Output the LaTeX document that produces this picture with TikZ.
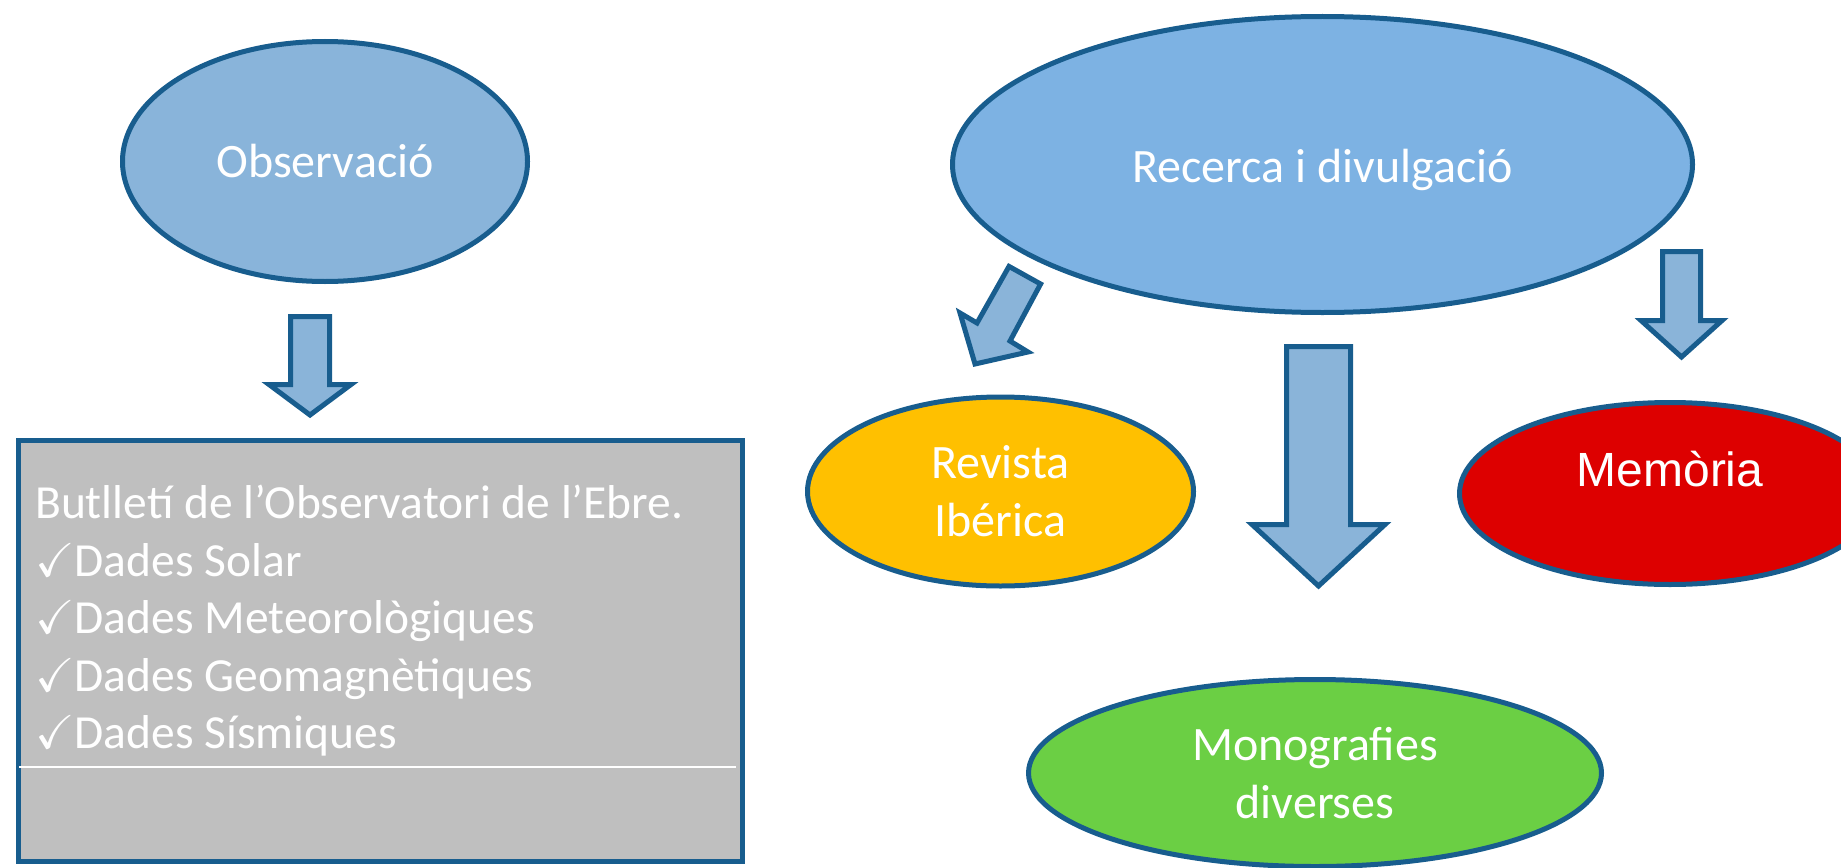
\documentclass[tikz,border=0pt]{standalone}
\usepackage{fontspec}
\usepackage{amssymb}
\setmainfont{Carlito}
\newfontfamily\arialfont{Liberation Sans}
\usetikzlibrary{shapes.geometric}
\definecolor{edgeblue}{HTML}{185D8E}
\definecolor{obsblue}{HTML}{89B4DA}
\definecolor{recblue}{HTML}{7DB2E3}
\definecolor{arrowblue}{HTML}{8AB4D9}
\definecolor{revyellow}{HTML}{FFC000}
\definecolor{memred}{HTML}{DD0000}
\definecolor{monogreen}{HTML}{6BCF44}
\definecolor{boxgray}{HTML}{BFBFBF}
\begin{document}
\begin{tikzpicture}[x=1pt,y=-1pt,
  oval/.style={ellipse, draw=edgeblue, line width=5pt, inner sep=0pt, text=white},
  ovaltext/.style={font=\fontsize{48}{58}\selectfont, align=center},
  blockarrow/.style={draw=edgeblue, fill=arrowblue, line width=5pt, line join=miter}]
\useasboundingbox (0,0) rectangle (1841,867);

% ellipses
\node[oval, fill=obsblue, minimum width=405, minimum height=240, ovaltext] (obs) at (325,161.5) {Observació};
\node[oval, fill=recblue, minimum width=740, minimum height=296, ovaltext, text height=42pt, text depth=7pt] (rec) at (1322.5,164.5) {Recerca i divulgació};
\node[oval, fill=revyellow, minimum width=386, minimum height=189, ovaltext] (rev) at (1000.5,491.5) {Revista\\Ibérica};
\node[oval, fill=memred, minimum width=421, minimum height=182, font=\arialfont\fontsize{48}{56}\selectfont, text height=36pt, text depth=50pt] (mem) at (1670,493.5) {Memòria};
\node[oval, fill=monogreen, minimum width=573, minimum height=187, ovaltext] (mono) at (1315,773) {Monografies\\diverses};

% bulletin box
\node[draw=edgeblue, fill=boxgray, line width=5pt, minimum width=724, minimum height=421, inner sep=0pt, anchor=north west] (box) at (15.5,437.5) {};
\draw[white, line width=1.5pt] (19,767) -- (736,767);
\node[anchor=north west, inner sep=0pt, text=white, align=left, font=\fontsize{47.5}{57.5}\selectfont] (bulletin) at (35,485)
  {Butlletí de l’Observatori de l’Ebre.\\
   \checkmark Dades Solar\\
   \checkmark Dades Meteorològiques\\
   \checkmark Dades Geomagnètiques\\
   \checkmark Dades Sísmiques};

% block arrows
\draw[blockarrow] (290.5,316.5) -- (329.5,316.5) -- (329.5,384.5) -- (351,384.5) -- (310,415) -- (269,384.5) -- (290.5,384.5) -- cycle;
\draw[blockarrow] (1662.5,251.5) -- (1700.5,251.5) -- (1700.5,320.5) -- (1722,320.5) -- (1681.5,357) -- (1641,320.5) -- (1662.5,320.5) -- cycle;
\draw[blockarrow] (1286.5,346.5) -- (1350.5,346.5) -- (1350.5,524.5) -- (1385,524.5) -- (1318.5,586) -- (1252,524.5) -- (1286.5,524.5) -- cycle;
\draw[blockarrow] (1009,266.4) -- (1040.6,284) -- (1010,341) -- (1028,352) -- (975,364) -- (960,313) -- (977,323) -- cycle;
\end{tikzpicture}
\end{document}
